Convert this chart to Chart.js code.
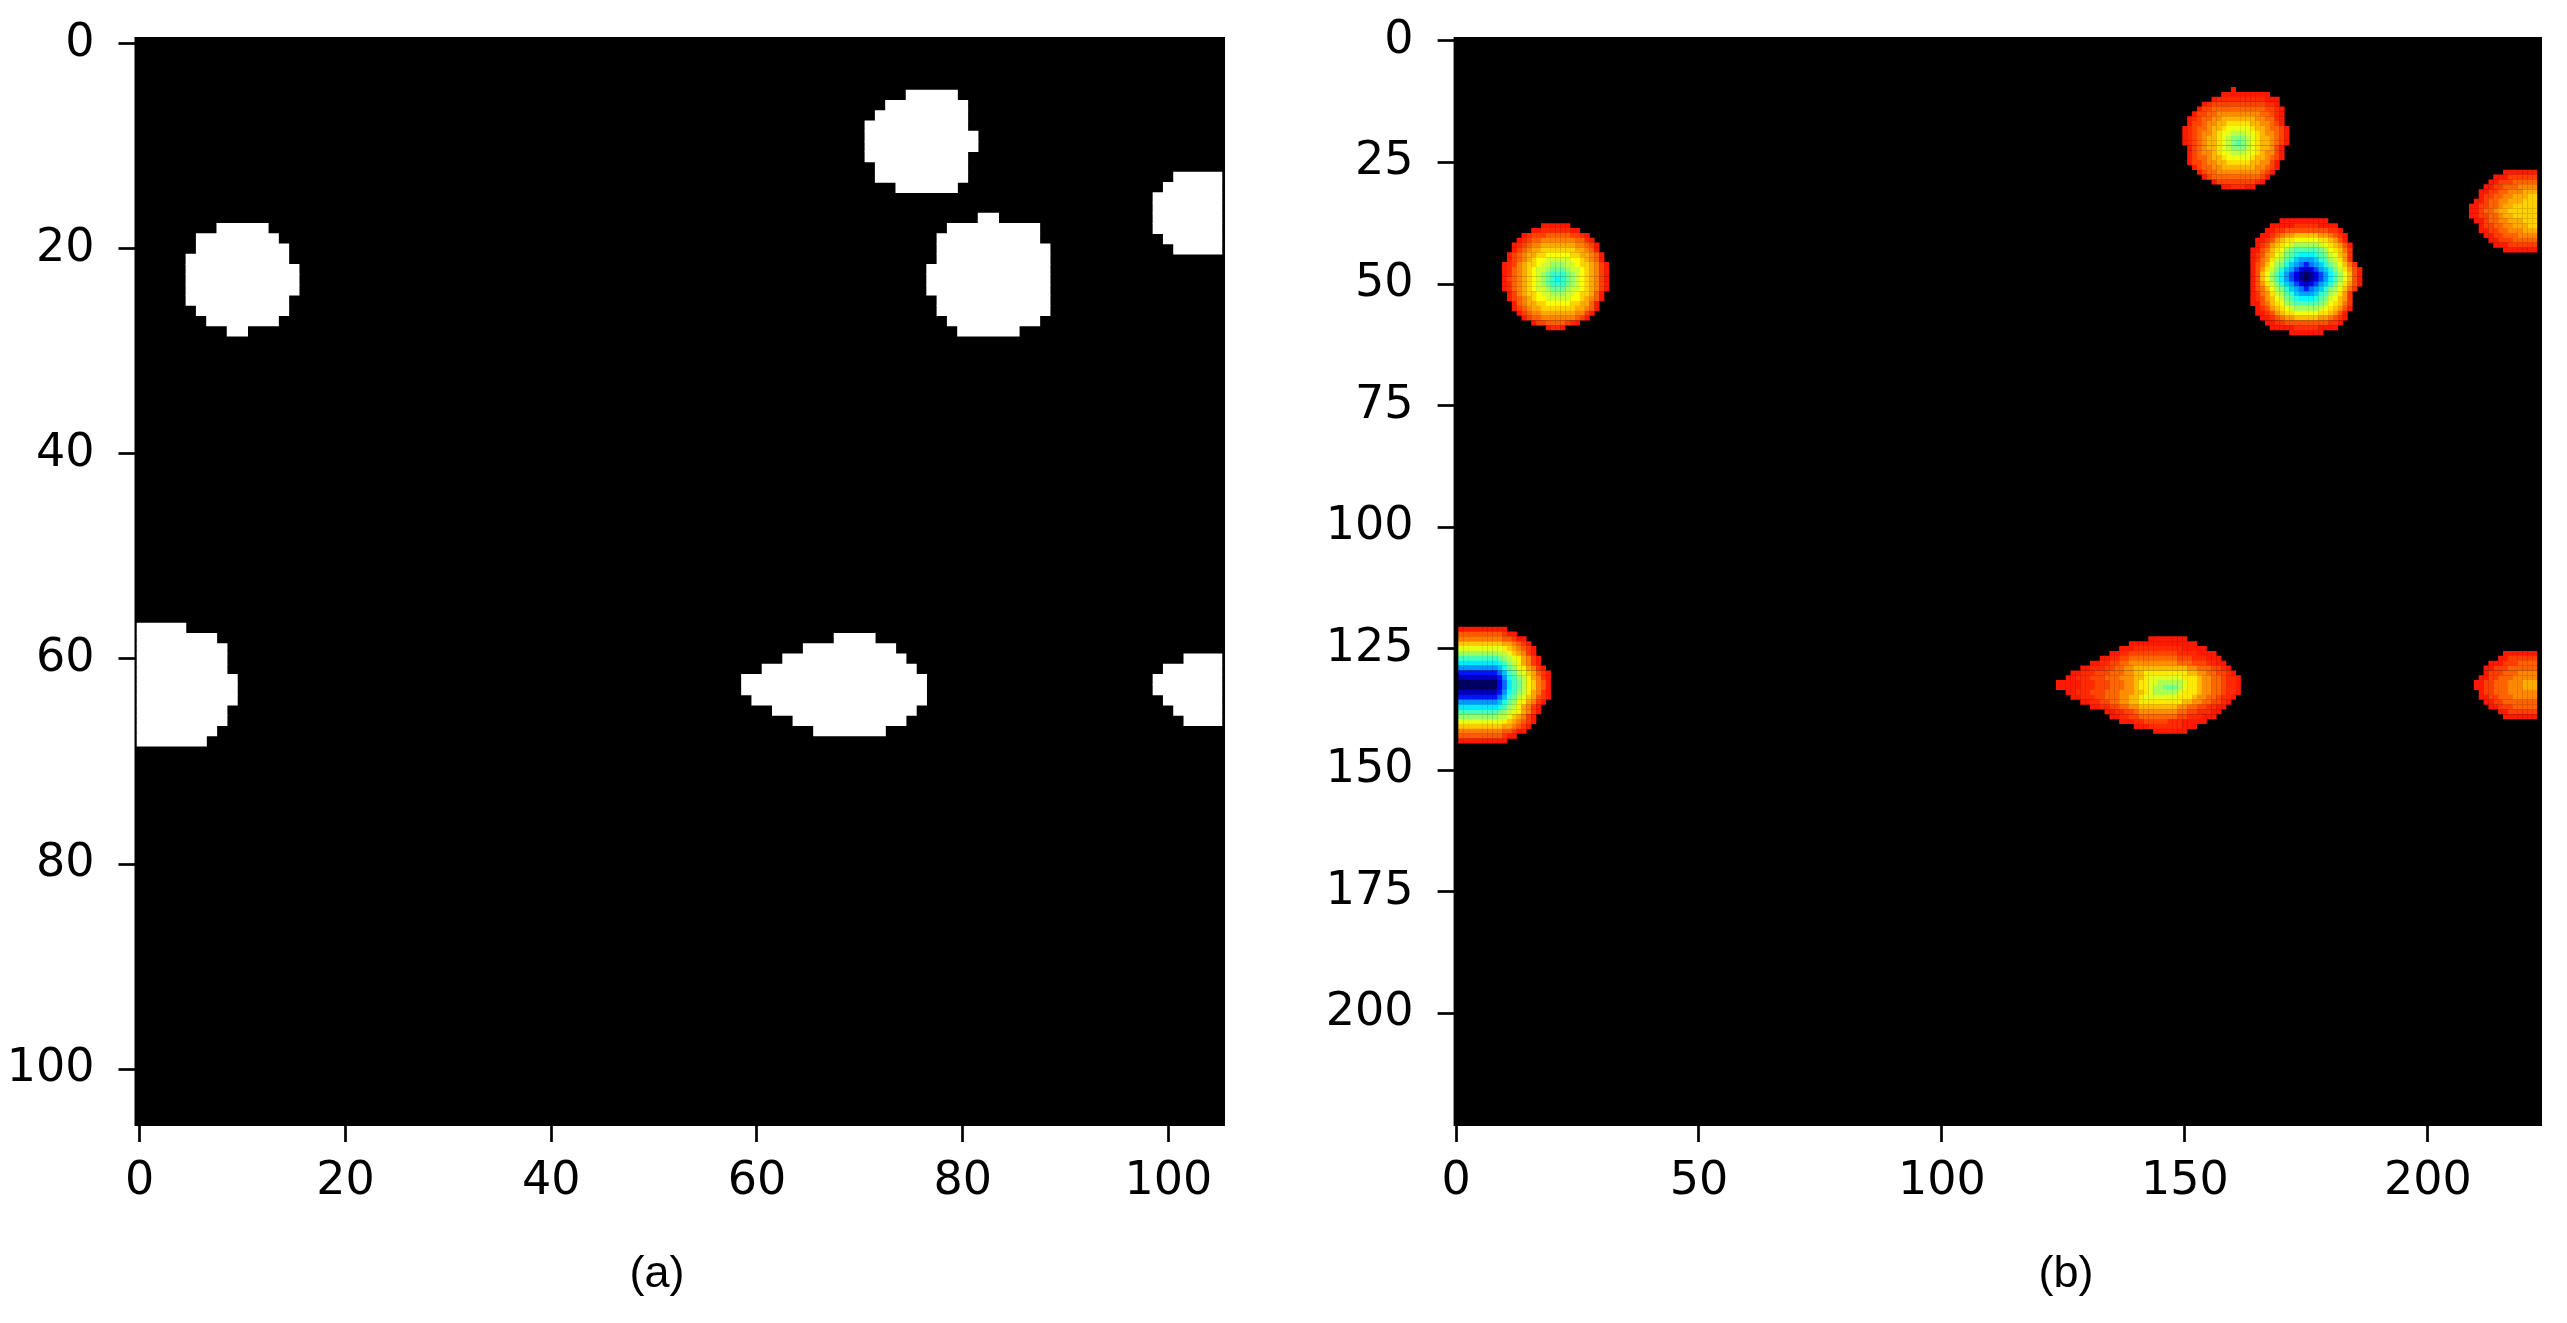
<!DOCTYPE html>
<html>
<head>
<meta charset="utf-8">
<script src="https://cdn.jsdelivr.net/npm/chart.js@4"></script>
<style>
html,body{margin:0;padding:0;background:#fff;width:2567px;height:1323px;overflow:hidden}
canvas{position:absolute;top:0}
#ca{left:0}#cb{left:1283px}
.cap{position:absolute;font:45px "Liberation Sans",Arial,sans-serif;color:#000;transform:translateX(-50%);line-height:1}
</style>
</head>
<body>
<canvas id="ca" width="1260" height="1323"></canvas>
<canvas id="cb" width="1284" height="1323"></canvas>
<div class="cap" style="left:657px;top:1249px">(a)</div>
<div class="cap" style="left:2066px;top:1249px">(b)</div>
<script>
// ---- panel (a): white mask, one entry per run: [row, first column, last column]
const maskTopBlob = [[5,75,79],[6,73,80],[7,72,80],[8,71,80],[9,71,81],[10,71,81],[11,71,80],[12,72,80],[13,72,80],[14,74,79]];
const maskLowerBlob = [[17,82,83],[18,79,87],[19,78,87],[20,78,88],[21,78,88],[22,77,88],[23,77,88],[24,77,88],[25,78,88],[26,78,88],[27,79,87],[28,80,85]];
const maskRightUpper = [[13,101,105.2],[14,100,105.2],[15,99,105.2],[16,99,105.2],[17,99,105.2],[18,99,105.2],[19,100,105.2],[20,101,105.2]];
const maskLeftBlob = [[18,8,12],[19,6,13],[20,6,14],[21,5,14],[22,5,15],[23,5,15],[24,5,15],[25,5,14],[26,6,14],[27,7,13],[28,9,10]];
const maskLeftEdge = [[57,-0.25,4],[58,-0.25,7],[59,-0.25,8],[60,-0.25,8],[61,-0.25,8],[62,-0.25,9],[63,-0.25,9],[64,-0.25,9],[65,-0.25,8],[66,-0.25,8],[67,-0.25,7],[68,-0.25,6]];
const maskTeardrop = [[58,68,71],[59,65,73],[60,63,74],[61,61,75],[62,59,76],[63,59,76],[64,60,76],[65,62,75],[66,64,74],[67,66,72]];
const maskRightLower = [[60,102,105.2],[61,100,105.2],[62,99,105.2],[63,99,105.2],[64,100,105.2],[65,101,105.2],[66,102,105.2]];
const xTicksA = [0,20,40,60,80,100];
const yTicksA = [0,20,40,60,80,100];

// ---- panel (b): cell levels, '.' = empty, base-36 digit = rising level
const heatTop = [
"..........1",
"........1111111111",
"......12222222222111",
"....1233333333333221",
"...133444444444443321",
"..1334455555555544321",
".12344556666666554421",
".13345566777776655431",
"1234456678888876654431",
"1234556788999887655431",
"1234566789aaa987665431",
"1234566789aba987665431",
".134566789aaa98766531",
".13455678899988765531",
".13445667888887665431",
".1334556677777665531",
"..134455666666655431",
"...1344555555555431",
"....13444444444431",
"......13333333321",
"........1122211"];
const heatBig = [
"......1111111111",
"....11111222221111",
"...1122333333333221",
"..112345566666554321",
".1123567788888776531",
".12356789aaaaa9876531",
"1134678abcccccba87642",
"1235689bcdeeedcb98652",
"124579acdfgggfdca9752",
"13468abdfghjhgfdba8642",
"13579bdfgiklkigfdb97531",
"1368acegikmnmkigeca8631",
"1368acegikmnmkigeca8631",
"13579bdfgiklkigfdb97531",
"13468abdfghjhgfdba8642",
"124579acdfgggfdca9752",
"1235689bcdeeedcb98652",
"1134678abcccccba87642",
".12356789aaaaa9876531",
".1123567788888776531",
"..112345566666554321",
"...1122333333333221",
"....11111222221111",
"........1111111"];
const heatLeft = [
"........111111",
"......1122222211",
"....12333444443321",
"...1234455555554421",
"..123455666666655431",
"..134566777777766541",
".13456677888887766541",
".13456788999998876541",
"1235677899aaa998776531",
"124567899abbba99876531",
"12456789abcccba9876531",
"13456789abcdcba9876531",
"12456789abcccba9876531",
"124567899abbba99876531",
".135677899aaa99877641",
".13456788999998876541",
"..145667788888776641",
"..134566777777766541",
"...1345566666665531",
"....13445555555431",
"......1334444321",
".........1221"];
const heatLeftEdge = [
"1111111111",
"333333333211",
"44444444433211",
"666666666554321",
"8888888887654321",
"aaaaaaaa99865421",
"ccccccccba9875421",
"eeeeeeeedca975421",
"ggggggggfdba875421",
"jjjjjjjjhfcb9865321",
"lllllllljgdca975421",
"nnnnnnnnkhecb976431",
"nnnnnnnnkhecb976431",
"lllllllljgdca975421",
"jjjjjjjjhfcb9865321",
"ggggggggfdba875421",
"eeeeeeeedca975421",
"ccccccccba9875421",
"aaaaaaaa99865421",
"8888888887654321",
"666666666554321",
"44444444433211",
"333333333211",
"1111111111"];
const heatTeardrop = [
"...................11111111",
"...............11111111111111",
".............111222222222211111",
"...........1122333333333322221111",
".........1122334444444444333222111",
".......1122334455555555554443332211",
".....1122233445566666666666554443321",
"...1122233344455667777777776655443321",
"..112223334445556678888888777655443221",
"11111222333444556778899999877655443221",
"1111122233344455677899aaa9877655443221",
"..112223334445556678999998777655443221",
"...1122233444556678888888777655443221",
".....1122334455667777777776655443321",
".......1122334455666666665544332211",
"..........112233455555555443322211",
"...........1122334444444433222111",
".............111223333322211111",
"................1112222222111",
"....................1111111"];
const heatRightUpper = [
".......1111111",
".....111222222",
"....1122233333",
"...11223334444",
"..112233444555",
"..122334455566",
".1123344555666",
"11223345566666",
"11233455666666",
"11223345566666",
".1123344555666",
"..122334455566",
"..112233444555",
"...11223334444",
"....1122233333",
".....111222222",
".......1111111"];
const heatRightLower = [
"......1111111",
".....11222222",
"...1112223333",
"..11222333333",
"..12223334444",
".112233344444",
"1122333444555",
"1122333444555",
".122333444444",
".112233344444",
"..11223333333",
"...1122233333",
".....11222222",
"......1111111"];
const heatBlobs = [heatTop, heatBig, heatLeft, heatLeftEdge, heatTeardrop, heatRightUpper, heatRightLower];
const blobColumns = [150, 164, 10, 1, 124, 209, 210];
const blobRows = [10, 37, 38, 121, 123, 27, 126];
const blobPeakLevels = [11, 23, 13, 23, 10, 6, 5];
const blobPeakValues = [6, 12, 7, 12, 5.5, 3.25, 2.8];
const blobTones = [1.4, 1.15, 1.4, 1.1, 1.4, 1, 1];
const xTicksB = [0,50,100,150,200];
const yTicksB = [0,25,50,75,100,125,150,175,200];

// ---- helpers
const clamp = v => Math.max(0, Math.min(1, v));
function jet(t){
  const r = clamp(Math.min(4*t-1.5, -4*t+4.5));
  const g = clamp(Math.min(4*t-0.5, -4*t+3.5));
  const b = clamp(Math.min(4*t+0.5, -4*t+2.5));
  return `rgb(${Math.round(r*255)},${Math.round(g*255)},${Math.round(b*255)})`;
}
const heatCells = [];
heatBlobs.forEach((rows, i) => rows.forEach((s, r) => [...s].forEach((ch, c) => {
  if (ch === '.') return;
  const share = (parseInt(ch, 36) - 1) / (blobPeakLevels[i] - 1);
  heatCells.push({x: blobColumns[i] + c, y: blobRows[i] + r, v: 1 + (blobPeakValues[i] - 1) * Math.pow(share, blobTones[i])});
})));
const maskRuns = [...maskTopBlob, ...maskLowerBlob, ...maskRightUpper, ...maskLeftBlob, ...maskLeftEdge, ...maskTeardrop, ...maskRightLower];
const edge = (v, d) => Number.isInteger(v) ? v + d : v;

const blackPlot = {
  id: 'blackPlot',
  beforeDatasetsDraw(chart){
    const {ctx, chartArea: a} = chart;
    ctx.save(); ctx.fillStyle = '#000';
    ctx.fillRect(a.left, a.top, a.right - a.left, a.bottom - a.top);
    ctx.restore();
  }
};
const tickFont = {family: '"DejaVu Sans"', size: 46};
function axis(min, max, reverse, ticks, fit, padding){
  return {
    type: 'linear', min, max, reverse, offset: false,
    border: {display: false},
    grid: {offset: false, drawOnChartArea: false, drawTicks: true, tickLength: 16, tickWidth: 2.7, tickColor: '#000'},
    ticks: {color: '#000', font: tickFont, padding, maxRotation: 0, autoSkip: false, includeBounds: false},
    afterBuildTicks: s => { s.ticks = ticks.map(value => ({value})); },
    afterFit: s => { fit(s); s.paddingTop = 0; s.paddingBottom = 0; s.paddingLeft = 0; s.paddingRight = 0; }
  };
}
function baseOptions(xs, ys, padRight){
  return {
    responsive: false, animation: false, events: [], devicePixelRatio: 1,
    layout: {padding: {top: 37, right: padRight, left: 0, bottom: 0}},
    plugins: {legend: {display: false}, tooltip: {enabled: false}},
    scales: {x: xs, y: ys}
  };
}

new Chart(document.getElementById('ca'), {
  type: 'bar',
  plugins: [blackPlot],
  data: {datasets: [{
    data: maskRuns.map(([row, a, b]) => ({y: row, x: [edge(a, -0.5), edge(b, 0.5)]})),
    backgroundColor: '#fff', borderWidth: 0, barThickness: 10.4, grouped: false
  }]},
  options: Object.assign(baseOptions(
    axis(-0.5, 105.5, false, xTicksA, s => { s.height = 197; }, 12),
    axis(-0.68, 105.56, true, yTicksA, s => { s.width = 134.5; }, 24),
    35), {indexAxis: 'y'})
});

new Chart(document.getElementById('cb'), {
  type: 'scatter',
  plugins: [blackPlot],
  data: {datasets: [{
    data: heatCells,
    pointStyle: 'rect', pointRadius: 3.6, pointBorderWidth: 0, borderWidth: 0,
    pointBackgroundColor: heatCells.map(c => jet(0.93 - 0.08 * c.v)),
    showLine: false
  }]},
  options: baseOptions(
    axis(-0.5, 223.5, false, xTicksB, s => { s.height = 197; }, 12),
    axis(-0.82, 223.2, true, yTicksB, s => { s.width = 170.6; }, 24),
    25)
});
</script>
</body>
</html>
